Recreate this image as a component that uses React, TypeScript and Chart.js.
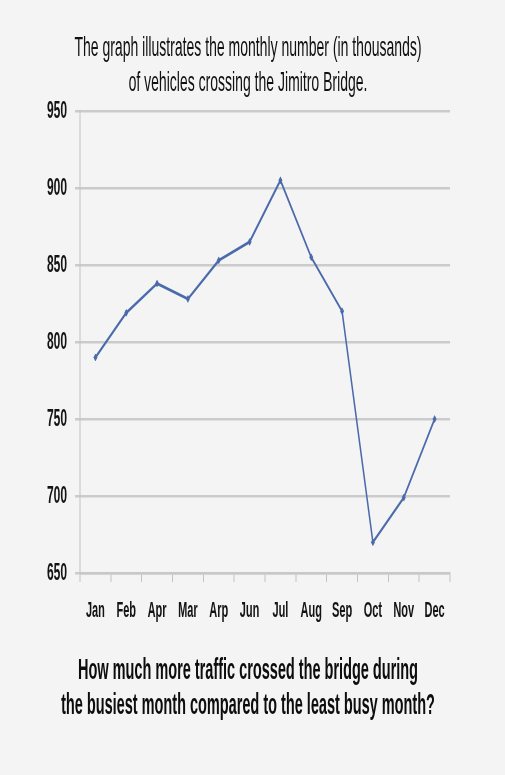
import React, { useEffect, useRef } from "react";
import { Chart, registerables } from "chart.js";

Chart.register(...registerables);

const months = ["Jan", "Feb", "Apr", "Mar", "Arp", "Jun", "Jul", "Aug", "Sep", "Oct", "Nov", "Dec"];
const vehicles = [790, 819, 838, 828, 853, 865, 905, 855, 820, 670, 699, 750];
const titleLines = [
  "The graph illustrates the monthly number (in thousands)",
  "of vehicles crossing the Jimitro Bridge.",
];
const questionLines = [
  "How much more traffic crossed the bridge during",
  "the busiest month compared to the least busy month?",
];
const yMin = 650;
const yMax = 950;
const yStep = 50;

// The reference looks like a picture squeezed horizontally; we draw on a
// canvas twice as wide and squeeze it back to 505px with CSS.
const SQUEEZE = 0.5;
const W = Math.round(505 / SQUEEZE);
const H = 775;
const FONT = "'Liberation Sans', Arial, Helvetica, sans-serif";

export default function App() {
  const ref = useRef<HTMLCanvasElement | null>(null);

  useEffect(() => {
    document.body.style.margin = "0";
    document.body.style.background = "#f4f4f4";
    const ctx = ref.current!;
    const chart = new Chart(ctx, {
      type: "line",
      data: {
        labels: months,
        datasets: [
          {
            data: vehicles,
            borderColor: "#4a6aab",
            backgroundColor: "#4a6aab",
            borderWidth: 3,
            pointStyle: "rectRot",
            pointRadius: 3.5,
            pointBorderWidth: 1,
            tension: 0,
          },
        ],
      },
      options: {
        responsive: false,
        animation: false,
        devicePixelRatio: 1,
        layout: { padding: { left: 0, right: 18, top: 0, bottom: 0 } },
        plugins: {
          legend: { display: false },
          tooltip: { enabled: false },
          title: {
            display: true,
            text: titleLines,
            color: "#111111",
            font: { family: FONT, size: 28, weight: "normal", lineHeight: 35 / 28 },
            padding: { top: 31, bottom: 10 },
          },
          subtitle: {
            display: true,
            position: "bottom",
            text: questionLines,
            color: "#0d0d0d",
            font: { family: FONT, size: 29, weight: "bold", lineHeight: 35 / 29 },
            padding: { top: 13, bottom: 51.5 },
          },
        },
        scales: {
          x: {
            offset: true,
            grid: {
              offset: true,
              drawOnChartArea: false,
              drawTicks: true,
              tickLength: 9,
              color: "#c2c2c2",
              lineWidth: 2,
            },
            border: { display: true, color: "#c8c8c8", width: 2.5 },
            ticks: {
              color: "#141414",
              padding: 16,
              maxRotation: 0,
              autoSkip: false,
              font: { family: FONT, size: 22, weight: "bold" },
            },
          },
          y: {
            min: yMin,
            max: yMax,
            afterFit: (s: any) => {
              s.width = 160;
            },
            grid: {
              color: "#cbcbcb",
              lineWidth: 2.5,
              drawTicks: true,
              tickLength: 10,
            },
            border: { display: true, color: "#c2c2c2", width: 2 },
            ticks: {
              stepSize: yStep,
              color: "#141414",
              padding: 16,
              font: { family: FONT, size: 24, weight: "bold" },
            },
          },
          yRight: {
            type: "linear",
            position: "right",
            min: yMin,
            max: yMax,
            afterFit: (s: any) => {
              s.width = 92;
            },
            grid: { display: false, drawTicks: false },
            border: { display: false },
            ticks: { display: false },
          },
        },
      },
    });
    return () => chart.destroy();
  }, []);

  return (
    <div style={{ position: "fixed", left: 0, top: 0, width: 505, height: H, overflow: "hidden", background: "#f4f4f4" }}>
      <div style={{ width: W, height: H, transform: `scaleX(${SQUEEZE})`, transformOrigin: "0 0" }}>
        <canvas ref={ref} width={W} height={H} style={{ width: W, height: H, display: "block" }} />
      </div>
    </div>
  );
}
